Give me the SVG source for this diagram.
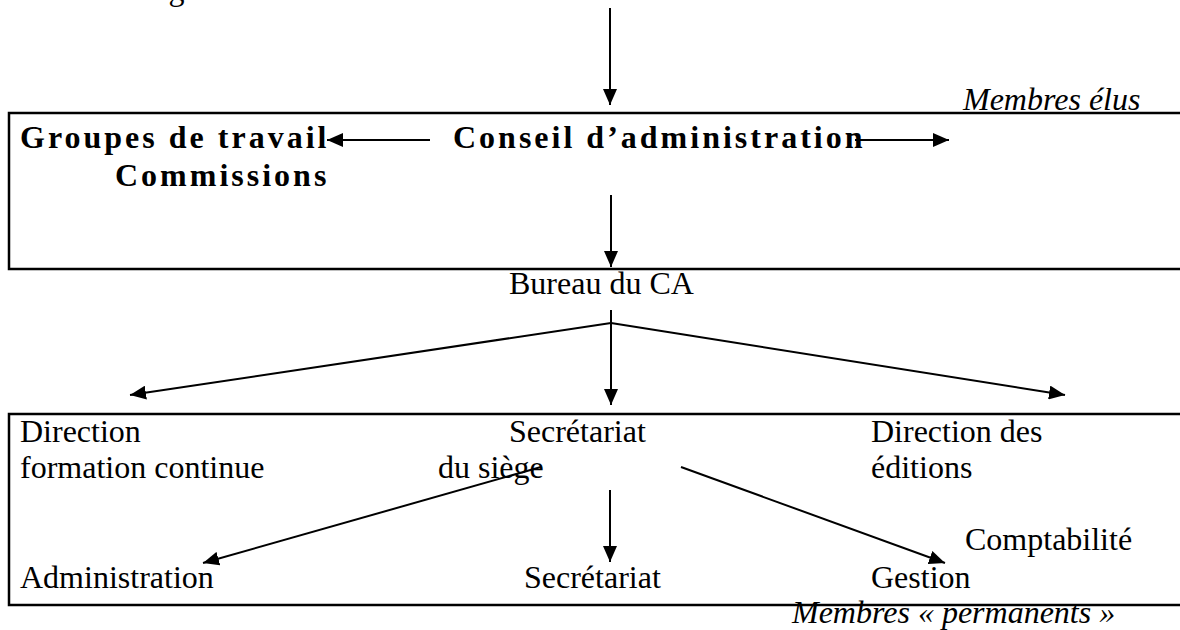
<svg xmlns="http://www.w3.org/2000/svg" width="1180" height="630" viewBox="0 0 1180 630">
<style>
.t{font-family:"Liberation Serif","Times New Roman",serif;font-size:32px;fill:#000}
.b{font-weight:bold;letter-spacing:3px}
.i{font-style:italic}
.c{stroke:#000;stroke-width:2;fill:none}
.box{stroke:#000;stroke-width:2.5;fill:none}
</style>
<defs>
<marker id="ah" markerUnits="userSpaceOnUse" markerWidth="16" markerHeight="14" refX="16" refY="7" orient="auto">
<path d="M0,0 L16,7 L0,14 z" fill="#000"/>
</marker>
</defs>
<g id="assemblee"><text class="t" x="20" y="0">Assemblée générale</text></g>
<g id="elus">
<rect class="box" x="9" y="113" width="1200" height="156"/>
<text class="t i" x="963" y="110">Membres élus</text>
</g>
<g id="groupes">
<text class="t b" x="20" y="148">Groupes de travail</text>
<text class="t b" x="115" y="186">Commissions</text>
</g>
<g id="conseil"><text class="t b" x="453" y="148">Conseil d’administration</text></g>
<g id="bureau"><text class="t" x="509" y="294">Bureau du CA</text></g>
<g id="permanents">
<rect class="box" x="9" y="414" width="1200" height="191"/>
<text class="t i" x="792" y="623">Membres « permanents »</text>
</g>
<g id="direction-fc">
<text class="t" x="20" y="442">Direction</text>
<text class="t" x="20" y="478">formation continue</text>
</g>
<g id="secretariat-siege">
<text class="t" x="509" y="442">Secrétariat</text>
<text class="t" x="438" y="478">du siège</text>
</g>
<g id="direction-editions">
<text class="t" x="871" y="442">Direction des</text>
<text class="t" x="871" y="478">éditions</text>
</g>
<g id="administration"><text class="t" x="20" y="588">Administration</text></g>
<g id="secretariat"><text class="t" x="524" y="588">Secrétariat</text></g>
<g id="gestion">
<text class="t" x="965" y="550">Comptabilité</text>
<text class="t" x="871" y="588">Gestion</text>
</g>
<g id="connectors">
<line class="c" x1="610" y1="8" x2="610" y2="105" marker-end="url(#ah)"/>
<line class="c" x1="430" y1="140" x2="327" y2="140" marker-end="url(#ah)"/>
<line class="c" x1="855" y1="140" x2="949" y2="140" marker-end="url(#ah)"/>
<line class="c" x1="611" y1="195" x2="611" y2="267" marker-end="url(#ah)"/>
<line class="c" x1="611" y1="310" x2="611" y2="405" marker-end="url(#ah)"/>
<line class="c" x1="611" y1="323" x2="130" y2="395" marker-end="url(#ah)"/>
<line class="c" x1="611" y1="323" x2="1065" y2="395" marker-end="url(#ah)"/>
<line class="c" x1="541" y1="467" x2="203" y2="563" marker-end="url(#ah)"/>
<line class="c" x1="610" y1="490" x2="610" y2="562" marker-end="url(#ah)"/>
<line class="c" x1="681" y1="467" x2="945" y2="563" marker-end="url(#ah)"/>
</g>
</svg>
